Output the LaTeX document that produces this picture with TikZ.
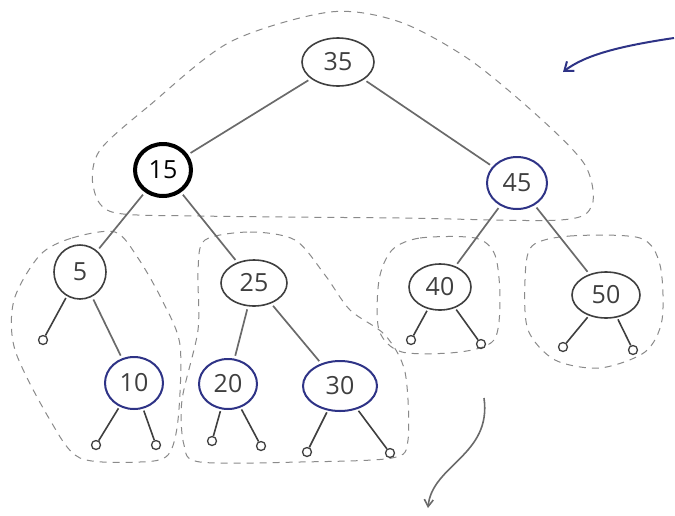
\documentclass[tikz,border=0pt]{standalone}
\usepackage{fontspec}
\setmainfont{Open Sans}
\usetikzlibrary{shapes.geometric,arrows.meta}
\definecolor{ink}{HTML}{3F3F3F}
\definecolor{navy}{HTML}{2E3386}
\definecolor{pencil}{HTML}{6A6A6A}
\definecolor{hatch}{HTML}{8A8A8A}

\begin{document}
\begin{tikzpicture}[x=1pt,y=-1pt,
  key/.style={ellipse,draw=ink,line width=1.6pt,inner sep=0pt,
    font=\fontsize{25}{25}\selectfont,text=ink},
  hl/.style={key,draw=navy,line width=2pt},
  sel/.style={key,draw=black,line width=4pt,text=black},
  leaf/.style={circle,draw=ink,line width=1.3pt,minimum size=9pt,inner sep=0pt},
  edge/.style={draw=pencil,line width=1.7pt,shorten <=3pt,shorten >=3pt},
  ledge/.style={draw=ink,line width=1.6pt,shorten <=2pt},
  region/.style={draw=hatch,line width=1pt,dash pattern=on 7pt off 6pt},
]
\useasboundingbox (0,0) rectangle (675,515);

% subtree outlines
\draw[region] plot[smooth cycle] coordinates {(100,150) (150,105) (230,42) (330,12) (400,22) (470,60) (540,118) (585,165) (592,205) (560,220) (400,218) (200,216) (112,212) (93,185)};
\draw[region] plot[smooth cycle] coordinates {(40,255) (72,238) (115,232) (138,258) (162,300) (180,345) (178,420) (168,455) (140,462) (80,458) (50,420) (15,350) (14,300)};
\draw[region] plot[smooth cycle] coordinates {(205,240) (250,232) (295,240) (325,275) (350,310) (385,335) (405,372) (408,440) (392,458) (300,462) (200,462) (184,445) (182,400) (198,330) (198,270)};
\draw[region] plot[smooth cycle] coordinates {(392,250) (420,238) (475,238) (495,255) (500,300) (494,340) (460,352) (402,352) (379,330) (379,280)};
\draw[region] plot[smooth cycle] coordinates {(532,246) (570,236) (640,238) (660,265) (662,320) (645,352) (600,368) (555,360) (528,330) (525,280)};

% keys
\node[key,minimum width=72pt,minimum height=48pt] (k35) at (338,62) {35};
\node[sel,minimum width=56pt,minimum height=52pt] (k15) at (163,170) {15};
\node[hl,minimum width=60pt,minimum height=52pt] (k45) at (517,183) {45};
\node[key,minimum width=52pt,minimum height=54pt] (k5) at (80,272) {5};
\node[key,minimum width=66pt,minimum height=46pt] (k25) at (254,283) {25};
\node[key,minimum width=62pt,minimum height=46pt] (k40) at (440,287) {40};
\node[key,minimum width=68pt,minimum height=46pt] (k50) at (606,295) {50};
\node[hl,minimum width=58pt,minimum height=52pt] (k10) at (134,383) {10};
\node[hl,minimum width=58pt,minimum height=50pt] (k20) at (228,384) {20};
\node[hl,minimum width=74pt,minimum height=50pt] (k30) at (340,386) {30};

% empty leaves
\node[leaf] (l5)   at (43,340) {};
\node[leaf] (l10a) at (96,445) {};
\node[leaf] (l10b) at (156,445) {};
\node[leaf] (l20a) at (212,441) {};
\node[leaf] (l20b) at (261,446) {};
\node[leaf] (l30a) at (307,452) {};
\node[leaf] (l30b) at (390,453) {};
\node[leaf] (l40a) at (411,340) {};
\node[leaf] (l40b) at (481,344) {};
\node[leaf] (l50a) at (563,347) {};
\node[leaf] (l50b) at (633,350) {};

% tree edges
\draw[edge] (k35) -- (k15);
\draw[edge] (k35) -- (k45);
\draw[edge] (k15) -- (k5);
\draw[edge] (k15) -- (k25);
\draw[edge] (k45) -- (k40);
\draw[edge] (k45) -- (k50);
\draw[edge] (k5) -- (k10);
\draw[edge] (k25) -- (k20);
\draw[edge] (k25) -- (k30);
\draw[ledge] (k5) -- (l5);
\draw[ledge] (k10) -- (l10a);
\draw[ledge] (k10) -- (l10b);
\draw[ledge] (k20) -- (l20a);
\draw[ledge] (k20) -- (l20b);
\draw[ledge] (k30) -- (l30a);
\draw[ledge] (k30) -- (l30b);
\draw[ledge] (k40) -- (l40a);
\draw[ledge] (k40) -- (l40b);
\draw[ledge] (k50) -- (l50a);
\draw[ledge] (k50) -- (l50b);

% pointers
\coordinate (pinA) at (674,38);
\coordinate (pinB) at (563,72);
\draw[navy,line width=2pt,-{Straight Barb[length=8pt,width=12pt]}] (pinA) .. controls (620,46) and (585,55) .. (pinB);
\coordinate (pinC) at (484,398);
\coordinate (pinD) at (428,508);
\draw[pencil,line width=1.6pt,-{Straight Barb[length=7pt,width=9pt]}] (pinC) .. controls (492,455) and (432,465) .. (pinD);
\end{tikzpicture}
\end{document}
